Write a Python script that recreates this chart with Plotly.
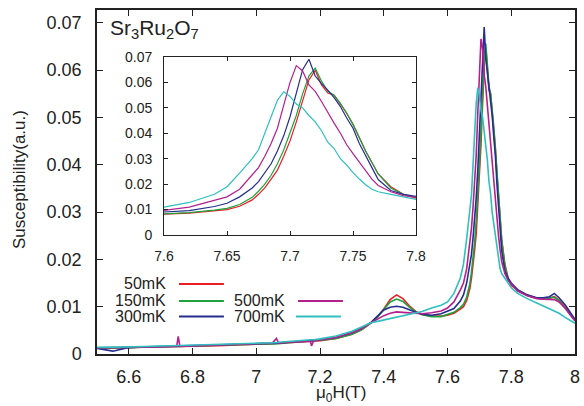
import plotly.graph_objects as go

# field values (T) shared by all temperature sweeps
field = [6.50, 6.55, 6.60, 6.65, 6.70, 6.75, 6.755, 6.76, 6.80, 6.85, 6.90, 6.95, 7.00, 7.05, 7.063, 7.07,
         7.10, 7.15, 7.17, 7.173, 7.18, 7.20, 7.25, 7.30, 7.33,
         7.36, 7.38, 7.40, 7.42, 7.44, 7.46, 7.48, 7.50, 7.52, 7.55, 7.58,
         7.60, 7.62, 7.64, 7.65, 7.66, 7.67, 7.675, 7.68, 7.685, 7.69, 7.695, 7.70, 7.705, 7.71, 7.715,
         7.72, 7.725, 7.73, 7.735, 7.74, 7.745, 7.75, 7.755, 7.76, 7.765, 7.77, 7.78, 7.79, 7.80,
         7.82, 7.85, 7.88, 7.90, 7.92, 7.935, 7.95, 7.97, 7.99, 8.00]

chi_50mK = [0.0013, 0.0012, 0.0014, 0.0014, 0.0015, 0.0016, 0.0016, 0.0016, 0.0017, 0.0017, 0.0018, 0.0020, 0.0021, 0.0022, 0.0022, 0.0023,
            0.0024, 0.0026, 0.0026, 0.0027, 0.0027, 0.0028, 0.0033, 0.0042, 0.0051,
            0.0066, 0.0078, 0.0095, 0.0115, 0.0125, 0.0117, 0.0102, 0.0090, 0.0084, 0.0080, 0.0080,
            0.0082, 0.0086, 0.0095, 0.0100, 0.0113, 0.0138, 0.0160, 0.0185, 0.0220, 0.0255, 0.0310, 0.0370, 0.0445, 0.0530, 0.0610,
            0.0648, 0.0590, 0.0558, 0.0550, 0.0515, 0.0478, 0.0435, 0.0380, 0.0330, 0.0285, 0.0240, 0.0190, 0.0160, 0.0145,
            0.0135, 0.0124, 0.0118, 0.0117, 0.0118, 0.0121, 0.0114, 0.0098, 0.0080, 0.0072]

chi_150mK = [0.0013, 0.0013, 0.0013, 0.0015, 0.0015, 0.0016, 0.0016, 0.0016, 0.0017, 0.0018, 0.0019, 0.0019, 0.0021, 0.0022, 0.0022, 0.0022,
             0.0024, 0.0026, 0.0027, 0.0027, 0.0027, 0.0029, 0.0033, 0.0042, 0.0051,
             0.0066, 0.0078, 0.0094, 0.0110, 0.0116, 0.0111, 0.0099, 0.0089, 0.0083, 0.0079, 0.0079,
             0.0083, 0.0088, 0.0098, 0.0105, 0.0120, 0.0148, 0.0172, 0.0200, 0.0235, 0.0280, 0.0334, 0.0400, 0.0470, 0.0555, 0.0625,
             0.0656, 0.0605, 0.0565, 0.0550, 0.0518, 0.0480, 0.0435, 0.0380, 0.0330, 0.0285, 0.0240, 0.0185, 0.0160, 0.0148,
             0.0134, 0.0124, 0.0118, 0.0117, 0.0118, 0.0120, 0.0113, 0.0097, 0.0079, 0.0071]

chi_300mK = [0.0012, 0.0006, 0.0014, 0.0015, 0.0016, 0.0016, 0.0016, 0.0017, 0.0017, 0.0018, 0.0019, 0.0020, 0.0021, 0.0022, 0.0023, 0.0023,
             0.0025, 0.0027, 0.0027, 0.0028, 0.0028, 0.0030, 0.0035, 0.0045, 0.0054,
             0.0067, 0.0080, 0.0093, 0.0099, 0.0101, 0.0099, 0.0093, 0.0088, 0.0084, 0.0082, 0.0085,
             0.0091, 0.0096, 0.0112, 0.0125, 0.0150, 0.0185, 0.0210, 0.0245, 0.0280, 0.0330, 0.0390, 0.0465, 0.0560, 0.0650, 0.0691,
             0.0625, 0.0595, 0.0570, 0.0540, 0.0505, 0.0460, 0.0420, 0.0360, 0.0310, 0.0265, 0.0218, 0.0175, 0.0160, 0.0150,
             0.0136, 0.0125, 0.0119, 0.0119, 0.0121, 0.0128, 0.0119, 0.0103, 0.0082, 0.0073]

chi_500mK = [0.0013, 0.0013, 0.0014, 0.0015, 0.0016, 0.0016, 0.0037, 0.0016, 0.0017, 0.0018, 0.0019, 0.0020, 0.0021, 0.0023, 0.0033, 0.0023,
             0.0025, 0.0027, 0.0027, 0.0017, 0.0028, 0.0030, 0.0035, 0.0045, 0.0054,
             0.0066, 0.0074, 0.0081, 0.0086, 0.0089, 0.0088, 0.0087, 0.0086, 0.0085, 0.0087, 0.0091,
             0.0097, 0.0110, 0.0135, 0.0150, 0.0180, 0.0235, 0.0265, 0.0310, 0.0360, 0.0420, 0.0510, 0.0600, 0.0666, 0.0645, 0.0590,
             0.0565, 0.0525, 0.0480, 0.0440, 0.0400, 0.0355, 0.0320, 0.0285, 0.0250, 0.0220, 0.0195, 0.0170, 0.0155, 0.0148,
             0.0133, 0.0123, 0.0117, 0.0116, 0.0116, 0.0115, 0.0110, 0.0096, 0.0078, 0.0070]

chi_700mK = [0.0014, 0.0014, 0.0015, 0.0016, 0.0017, 0.0017, 0.0017, 0.0018, 0.0018, 0.0019, 0.0020, 0.0021, 0.0023, 0.0024, 0.0024, 0.0025,
             0.0027, 0.0029, 0.0030, 0.0030, 0.0030, 0.0032, 0.0038, 0.0048, 0.0057,
             0.0066, 0.0069, 0.0072, 0.0076, 0.0079, 0.0082, 0.0084, 0.0087, 0.0090, 0.0097, 0.0103,
             0.0110, 0.0128, 0.0160, 0.0190, 0.0243, 0.0300, 0.0335, 0.0400, 0.0470, 0.0530, 0.0563, 0.0545, 0.0515, 0.0500, 0.0470,
             0.0445, 0.0410, 0.0365, 0.0340, 0.0300, 0.0275, 0.0245, 0.0220, 0.0198, 0.0180, 0.0170, 0.0160, 0.0150, 0.0140,
             0.0128, 0.0117, 0.0108, 0.0102, 0.0096, 0.0092, 0.0086, 0.0077, 0.0068, 0.0065]

labels = ['50mK', '150mK', '300mK', '500mK', '700mK']
series = [chi_50mK, chi_150mK, chi_300mK, chi_500mK, chi_700mK]
colors = ['#ec1c24', '#1fa23e', '#252e8f', '#b3218f', '#2fbfbf']

main_xticks = [6.6, 6.8, 7.0, 7.2, 7.4, 7.6, 7.8, 8.0]
main_xtext = ['6.6', '6.8', '7', '7.2', '7.4', '7.6', '7.8', '8']

FONT = 'Liberation Sans, Arial, sans-serif'

fig = go.Figure()
for lab, chi, col in zip(labels, series, colors):
    fig.add_trace(go.Scatter(x=field, y=chi, mode='lines', name=lab,
                             line=dict(color=col, width=1.6), showlegend=False,
                             xaxis='x', yaxis='y'))
    fig.add_trace(go.Scatter(x=field, y=chi, mode='lines', name=lab,
                             line=dict(color=col, width=1.2), showlegend=False,
                             xaxis='x2', yaxis='y2'))

ax = dict(showline=True, linecolor='#222', mirror='ticks', ticks='inside',
          tickcolor='#222', showgrid=False, zeroline=False, automargin=False)

fig.update_layout(
    width=584, height=406,
    margin=dict(l=97, r=9, t=10, b=52),
    paper_bgcolor='white', plot_bgcolor='white',
    font=dict(family=FONT, color='#222'),
    xaxis=dict(ax, range=[6.5, 8.0], tickvals=main_xticks, ticktext=main_xtext,
               linewidth=1.5, ticklen=6, tickfont=dict(size=18),
               ticklabelstandoff=6),
    yaxis=dict(ax, range=[0, 0.0727], dtick=0.01, tick0=0,
               linewidth=1.5, ticklen=6, tickfont=dict(size=18),
               ticklabelstandoff=10),
    xaxis2=dict(ax, domain=[0.1402, 0.6674], anchor='y2', range=[7.6, 7.8], dtick=0.05,
                tick0=7.6, linewidth=1, ticklen=4, tickfont=dict(size=14),
                ticklabelstandoff=8),
    yaxis2=dict(ax, domain=[0.3459, 0.8634], anchor='x2', range=[0, 0.07], dtick=0.01,
                tick0=0, linewidth=1, ticklen=4, tickfont=dict(size=14),
                ticklabelstandoff=8),
)

# axis titles placed as free text
fig.add_annotation(text='μ<sub>0</sub>H(T)', xref='paper', yref='paper', x=0.51, y=-0.115,
                   xanchor='center', yanchor='middle', showarrow=False,
                   font=dict(size=17, family=FONT, color='#222'))
fig.add_annotation(text='Susceptibility(a.u.)', xref='paper', yref='paper', x=-0.161, y=0.506,
                   xanchor='center', yanchor='middle', textangle=-90, showarrow=False,
                   font=dict(size=17, family=FONT, color='#222'))

# compound label
fig.add_annotation(text='Sr<sub>3</sub>Ru<sub>2</sub>O<sub>7</sub>', xref='paper', yref='paper',
                   x=0.023, y=0.945, xanchor='left', yanchor='middle', showarrow=False,
                   font=dict(size=21, family=FONT, color='#222'))

# gnuplot-style key: text then line sample
key_text_x = [0.1485, 0.1485, 0.1485, 0.3975, 0.3975]
key_line_x0 = [0.1715, 0.1715, 0.1715, 0.4205, 0.4163]
key_y = [0.2035, 0.1541, 0.109, 0.1541, 0.109]
for lab, col, tx, lx, ky in zip(labels, colors, key_text_x, key_line_x0, key_y):
    fig.add_annotation(text=lab, xref='paper', yref='paper', x=tx, y=ky,
                       xanchor='right', yanchor='middle', showarrow=False,
                       font=dict(size=16, family=FONT, color='#222'))
    fig.add_shape(type='line', xref='paper', yref='paper', x0=lx, x1=lx + 0.094,
                  y0=ky, y1=ky, line=dict(color=col, width=2))

# remove the default page margin so the 584x406 figure sits exactly in the window
fig.write_html('out.html', config={'displayModeBar': False},
               post_script="document.body.style.margin='0';")
